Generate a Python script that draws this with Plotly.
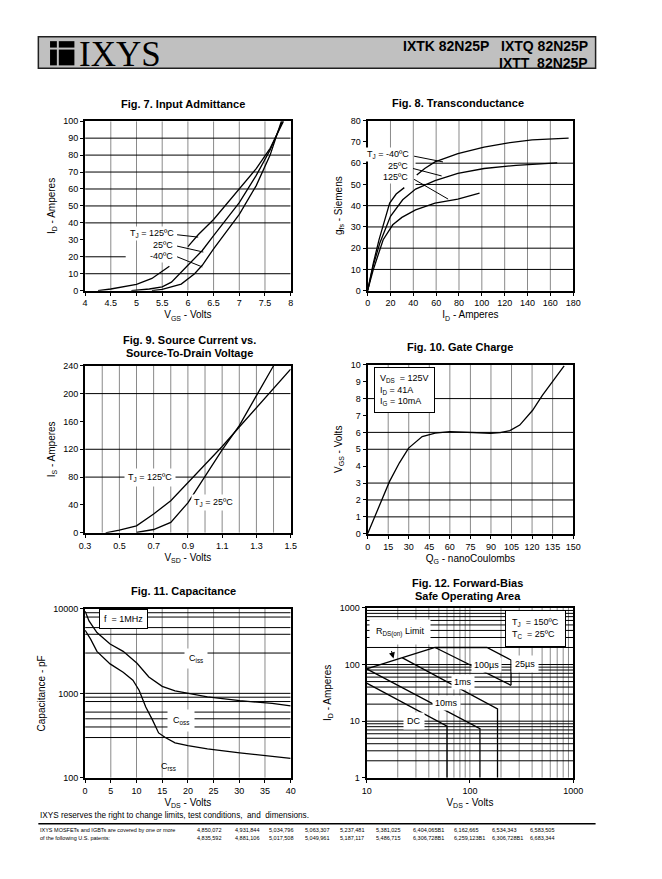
import plotly.graph_objects as go
import math

PAGE_W, PAGE_H = 662, 879
OFF = 8  # browser body margin
W = 620
H = 845
FONT = "Liberation Sans, Arial, sans-serif"
GRAY = "#8a8a8a"

# ---------------- DATA ----------------
# Fig 7 Input admittance (VGS in V, ID in A)
f7_vgs_125 = [4.25, 4.5, 5.0, 5.3, 5.64, None, 6.0, 6.2, 6.5, 7.0, 7.33, 7.6, 7.86]
f7_id_125 = [0, 1, 3.7, 7.2, 14.4, None, 26, 33, 42, 60, 72, 84, 100]
f7_vgs_25 = [4.9, 5.0, 5.25, 5.5, 5.68, 6.0, 6.28, 6.5, 7.0, 7.33, 7.6, 7.84]
f7_id_25 = [0, 0.3, 1, 2.3, 5, 15, 23.7, 32.5, 52, 68, 83, 100]
f7_vgs_m40 = [5.3, 5.5, 5.87, 6.13, 6.28, 6.5, 7.0, 7.33, 7.6, 7.82]
f7_id_m40 = [0, 0.8, 3.9, 10, 15, 24.7, 45, 62, 80, 100]
f7_xticks = [4, 4.5, 5, 5.5, 6, 6.5, 7, 7.5, 8]
f7_yticks = [0, 10, 20, 30, 40, 50, 60, 70, 80, 90, 100]
f7_hgrid = [10, 40, 50, 60, 70, 80, 90]

# Fig 8 Transconductance (ID in A, gfs in S)
f8_id_m40 = [0, 5, 10, 13.6, 19.3, 25, 32.1, None, 43, 50, 59, 79, 102, 122, 144, 176]
f8_gfs_m40 = [0, 13, 24, 30.4, 41.2, 45.5, 48.5, None, 54.4, 57.5, 60.6, 64.5, 67.6, 69.5, 71, 71.8]
f8_id_25 = [0, 5, 10.8, 20, 30.7, 42, 59, 79, 102, 130, 166]
f8_gfs_25 = [0, 12, 22.6, 35, 42.8, 47.8, 51.8, 55.2, 57.5, 59, 60.2]
f8_id_125 = [0, 5, 13.6, 22, 30, 42, 59, 79, 98]
f8_gfs_125 = [0, 10, 24, 31, 34.5, 38, 41.2, 43.1, 45.9]
f8_xticks = [0, 20, 40, 60, 80, 100, 120, 140, 160, 180]
f8_yticks = [0, 10, 20, 30, 40, 50, 60, 70, 80]

# Fig 9 Source current vs source-drain voltage
f9_vsd_125 = [0.42, 0.5, 0.6, 0.7, 0.8, 0.9, 1.0, 1.1, 1.2, 1.3, 1.4, 1.5]
f9_is_125 = [0, 3.8, 10, 27, 46, 72, 97, 124, 152, 180, 208, 235]
f9_vsd_25 = [0.6, 0.7, 0.8, 0.9, 1.0, 1.1, 1.2, 1.3, 1.4]
f9_is_25 = [0.5, 4.7, 15, 43, 81, 119, 154, 197, 240]
f9_xticks = [0.3, 0.5, 0.7, 0.9, 1.1, 1.3, 1.5]
f9_yticks = [0, 40, 80, 120, 160, 200, 240]

# Fig 10 Gate charge
f10_qg = [0, 10.2, 16, 23.2, 29.9, 39.8, 49.3, 60, 73, 89.6, 96.7, 103.8, 111, 120.4, 127.5, 134.6, 143.4]
f10_vgs = [0, 2, 3.1, 4.2, 5.07, 5.75, 5.95, 6.04, 6.0, 5.95, 5.98, 6.1, 6.43, 7.31, 8.19, 8.97, 9.94]
f10_xticks = [0, 15, 30, 45, 60, 75, 90, 105, 120, 135, 150]
f10_yticks = [0, 1, 2, 3, 4, 5, 6, 7, 8, 9, 10]
f10_hgrid = [1, 2, 3, 5, 6, 8]

# Fig 11 Capacitance
f11_vds_iss = [0, 0.76, 2.3, 4.86, 7.4, 10.1, 12.4, 15, 17.5, 20, 23.8, 30.1, 36.4, 40]
f11_c_iss = [9400, 7200, 5240, 3830, 3140, 2270, 1560, 1210, 1070, 1000, 910, 820, 760, 710]
f11_vds_low = [0, 1.07, 2.3, 4.86, 7.4, 9.3, 10.5, 11.8, 13.1, 14.3, 15.6, 17.5, 20, 23.8, 30.1, 36.4, 40]
f11_c_low = [5580, 4380, 3140, 2230, 1780, 1430, 1090, 690, 485, 340, 300, 260, 240, 220, 198, 180, 170]
f11_xticks = [0, 5, 10, 15, 20, 25, 30, 35, 40]
f11_yticks = [100, 1000, 10000]
f11_hgrid = [300, 400, 500, 600, 800, 900, 1000, 3000, 5000, 6000, 8000, 9000]

# Fig 12 Forward-bias SOA
f12_v_rds = [10, 46]
f12_i_rds = [84, 200]
f12_v_25us = [46, 146, 250, 250]
f12_i_25us = [200, 200, 120, 43]
f12_v_100us = [46, 250]
f12_i_100us = [200, 43]
f12_v_1ms = [22, 185, 185]
f12_i_1ms = [132, 16.5, 1]
f12_v_10ms = [10, 125, 125]
f12_i_10ms = [84, 7.4, 1]
f12_v_dc = [10, 60, 60]
f12_i_dc = [47, 8.2, 1]
f12_xticks = [10, 100, 1000]
f12_yticks = [1, 10, 100, 1000]
f12_minor = [2, 3, 4, 5, 6, 7, 8, 9]

patents_row1 = ["4,850,072", "4,931,844", "5,034,796", "5,063,307", "5,237,481",
                "5,381,025", "6,404,065B1", "6,162,665", "6,534,343", "6,583,505"]
patents_row2 = ["4,835,592", "4,881,106", "5,017,508", "5,049,961", "5,187,117",
                "5,486,715", "6,306,728B1", "6,259,123B1", "6,306,728B1", "6,683,344"]

# ---------------- LAYOUT HELPERS (page pixel coords) ----------------
panels = {
    1: dict(x=(81, 292), y=(117.5, 289)),
    2: dict(x=(371, 582), y=(117, 289)),
    3: dict(x=(81, 292), y=(365, 534)),
    4: dict(x=(371, 582), y=(364, 535)),
    5: dict(x=(81, 292), y=(611, 782)),
    6: dict(x=(370, 582), y=(610, 782)),
}


def PX(p):
    return (p - OFF) / W


def PY(p):
    return 1 - (p - OFF) / H


fig = go.Figure()


def ax_names(n):
    s = "" if n == 1 else str(n)
    return "x" + s, "y" + s


def lines(n, xs, ys, color="black", width=1.3):
    xa, ya = ax_names(n)
    fig.add_trace(go.Scatter(x=xs, y=ys, mode="lines", line=dict(color=color, width=width),
                             xaxis=xa, yaxis=ya, hoverinfo="skip", showlegend=False,
                             connectgaps=False))


def hgrid(n, vals, x0, x1, color="black"):
    xs, ys = [], []
    for v in vals:
        xs += [x0, x1, None]
        ys += [v, v, None]
    lines(n, xs, ys, color=color, width=1)


def vgrid(n, vals, y0, y1, color=GRAY):
    xs, ys = [], []
    for v in vals:
        xs += [v, v, None]
        ys += [y0, y1, None]
    lines(n, xs, ys, color=color, width=1)


def axis(n, which, rng, tickvals, ticktext=None, title=None, log=False, standoff=4):
    p = panels[n]
    if which == "x":
        dom = [PX(p["x"][0]), PX(p["x"][1])]
    else:
        dom = [PY(p["y"][1]), PY(p["y"][0])]
    a = dict(domain=dom, range=rng, showline=True, linecolor="black", linewidth=2,
             mirror=True, showgrid=False, zeroline=False, ticks="outside", ticklen=3,
             tickcolor="black", tickvals=tickvals,
             ticktext=ticktext if ticktext else [str(t) for t in tickvals],
             tickfont=dict(size=9, family=FONT, color="black"), fixedrange=True)
    if log:
        a["type"] = "log"
    if title:
        a["title"] = dict(text=title, font=dict(size=10, family=FONT, color="black"),
                          standoff=standoff)
    xa, ya = ax_names(n)
    if which == "x":
        a["anchor"] = ya
        fig.layout["xaxis" + xa[1:]] = a
    else:
        a["anchor"] = xa
        fig.layout["yaxis" + ya[1:]] = a


annotations = []
shapes = []


def note(n, x, y, text, size=9, bg=None, xanchor="center", border=False, pad=1, align="center"):
    xa, ya = ax_names(n)
    d = dict(x=x, y=y, xref=xa, yref=ya, text=text, showarrow=False, xanchor=xanchor,
             yanchor="middle", align=align,
             font=dict(size=size, family=FONT, color="black"), borderpad=pad)
    if bg:
        d["bgcolor"] = bg
    if border:
        d["bordercolor"] = "black"
        d["borderwidth"] = 1
    annotations.append(d)


def leader(n, x0, y0, x1, y1):
    xa, ya = ax_names(n)
    shapes.append(dict(type="line", xref=xa, yref=ya, x0=x0, y0=y0, x1=x1, y1=y1,
                       line=dict(color="black", width=1), layer="above"))


def arrow(n, x0, y0, x1, y1):
    xa, ya = ax_names(n)
    annotations.append(dict(x=x1, y=y1, ax=x0, ay=y0, xref=xa, yref=ya, axref=xa, ayref=ya,
                            text=" ", showarrow=True, arrowhead=2, arrowwidth=1,
                            arrowsize=1.2, arrowcolor="black", standoff=0, startstandoff=0))


def paper_text(px, py, text, size=10, bold=False, xanchor="center", family=FONT):
    annotations.append(dict(x=PX(px), y=PY(py), xref="paper", yref="paper",
                            text=("<b>%s</b>" % text) if bold else text, showarrow=False,
                            xanchor=xanchor, yanchor="middle",
                            font=dict(size=size, family=family, color="black")))


def paper_rect(x0, y0, x1, y1, fill="black", line=None, lw=0, layer="above"):
    shapes.append(dict(type="rect", xref="paper", yref="paper", x0=PX(x0), x1=PX(x1),
                       y0=PY(y1), y1=PY(y0), fillcolor=fill,
                       line=dict(color=line or fill, width=lw), layer=layer))


# ---------------- FIG 7 ----------------
vgrid(1, f7_xticks[1:-1], 0, 100)
hgrid(1, f7_hgrid, 4, 8)
hgrid(1, [20], 4, 4.79)
lines(1, f7_vgs_125, f7_id_125)
lines(1, f7_vgs_25, f7_id_25)
lines(1, f7_vgs_m40, f7_id_m40)
axis(1, "x", [4, 8], f7_xticks, title="V<sub>GS</sub> - Volts", standoff=4)
axis(1, "y", [0, 100], f7_yticks, title="I<sub>D</sub> - Amperes", standoff=6)
note(1, 5.77, 33.5, "T<sub>J</sub> = 125ºC", xanchor="right", bg="white")
note(1, 5.75, 27, "25ºC", xanchor="right", bg="white")
note(1, 5.75, 20.5, "-40ºC", xanchor="right", bg="white")
leader(1, 5.79, 33, 6.2, 31.6)
leader(1, 5.79, 26.3, 6.3, 22.8)
leader(1, 5.79, 20, 6.28, 14)

# ---------------- FIG 8 ----------------
vgrid(2, f8_xticks[1:-1], 0, 80)
hgrid(2, [10, 20, 30, 40], 0, 180)
hgrid(2, [50, 60], 42, 180)
lines(2, f8_id_m40, f8_gfs_m40)
lines(2, f8_id_25, f8_gfs_25)
lines(2, f8_id_125, f8_gfs_125)
axis(2, "x", [0, 180], f8_xticks, title="I<sub>D</sub> - Amperes", standoff=4)
axis(2, "y", [0, 80], f8_yticks, title="g<sub>fs</sub> - Siemens", standoff=6)
note(2, 38, 64, "T<sub>J</sub> = -40ºC", xanchor="right", bg="white")
note(2, 37, 58.6, "25ºC", xanchor="right", bg="white")
note(2, 37, 53.4, "125ºC", xanchor="right", bg="white")
leader(2, 40.7, 63.3, 66, 60.6)
leader(2, 39.8, 57.5, 64.8, 54)
leader(2, 40.7, 52.4, 70.5, 43.1)

# ---------------- FIG 9 ----------------
vgrid(3, [round(0.4 + 0.1 * k, 1) for k in range(11)], 0, 240)
hgrid(3, [80, 120, 200], 0.3, 1.5)
lines(3, f9_vsd_125, f9_is_125)
lines(3, f9_vsd_25, f9_is_25)
axis(3, "x", [0.3, 1.5], f9_xticks, title="V<sub>SD</sub> - Volts", standoff=4)
axis(3, "y", [0, 240], f9_yticks, title="I<sub>S</sub> - Amperes", standoff=6)
note(3, 0.68, 80, "T<sub>J</sub> = 125ºC", bg="white", pad=3)
note(3, 1.05, 43, "T<sub>J</sub> = 25ºC", bg="white", pad=2)

# ---------------- FIG 10 ----------------
vgrid(4, f10_xticks[1:-1], 0, 10)
hgrid(4, f10_hgrid, 0, 150)
lines(4, f10_qg, f10_vgs)
axis(4, "x", [0, 150], f10_xticks, title="Q<sub>G</sub> - nanoCoulombs", standoff=4)
axis(4, "y", [0, 10], f10_yticks, title="V<sub>GS</sub> - Volts", standoff=6)
note(4, 4.5, 8.5, "V<sub>DS</sub>  = 125V<br>I<sub>D</sub> = 41A<br>I<sub>G</sub> = 10mA",
     bg="white", border=True, pad=5, xanchor="left", align="left")

# ---------------- FIG 11 ----------------
vgrid(5, f11_xticks[1:-1], 100, 10000)
hgrid(5, f11_hgrid, 0, 40)
lines(5, f11_vds_iss, f11_c_iss)
lines(5, f11_vds_low, f11_c_low)
axis(5, "x", [0, 40], f11_xticks, title="V<sub>DS</sub> - Volts", standoff=4)
axis(5, "y", [2, 4], f11_yticks, title="Capacitance - pF", log=True, standoff=6)
note(5, 7.5, math.log10(7500), "f  = 1MHz", bg="white", border=True, pad=4)
note(5, 21.6, math.log10(2600), "C<sub>iss</sub>", bg="white", pad=4)
note(5, 18.6, math.log10(480), "C<sub>oss</sub>", bg="white", pad=5)
note(5, 16.2, math.log10(138), "C<sub>rss</sub>")

# ---------------- FIG 12 ----------------
vminor = [m * d for d in (10, 100) for m in f12_minor] + [100]
vgrid(6, vminor, 1, 1000)
hminor = [m * d for d in (1, 10, 100) for m in f12_minor] + [10, 100]
hgrid(6, hminor, 10, 1000)
lines(6, f12_v_rds, f12_i_rds)
lines(6, f12_v_25us, f12_i_25us)
lines(6, f12_v_100us, f12_i_100us)
lines(6, f12_v_1ms, f12_i_1ms)
lines(6, f12_v_10ms, f12_i_10ms)
lines(6, f12_v_dc, f12_i_dc)
axis(6, "x", [1, 3], f12_xticks, title="V<sub>DS</sub> - Volts", log=True, standoff=4)
axis(6, "y", [0, 3], f12_yticks, title="I<sub>D</sub> - Amperes", log=True, standoff=6)
L = math.log10
note(6, L(21), L(370), "R<sub>DS(on)</sub> Limit", bg="white", pad=6)
arrow(6, L(16.5), L(245), L(18.2), L(128))
note(6, L(146), L(100), "100µs", bg="white", pad=2)
note(6, L(345), L(102), "25µs", bg="white", pad=3)
note(6, L(85), L(50), "1ms", bg="white", pad=2)
note(6, L(59), L(21), "10ms", bg="white", pad=2)
note(6, L(28.6), L(10), "DC", bg="white", pad=3)
note(6, L(430), L(440), "T<sub>J</sub>  = 150ºC<br>T<sub>C</sub>  = 25ºC",
     bg="white", border=True, pad=6, align="left")

# ---------------- TITLES ----------------
paper_text(181, 100, "Fig. 7. Input Admittance", size=11, bold=True)
paper_text(464, 99.5, "Fig. 8. Transconductance", size=11, bold=True)
paper_text(188, 339, "Fig. 9. Source Current vs.", size=11, bold=True)
paper_text(188, 352, "Source-To-Drain Voltage", size=11, bold=True)
paper_text(466, 345.5, "Fig. 10. Gate Charge", size=11, bold=True)
paper_text(182, 592.5, "Fig. 11. Capacitance", size=11, bold=True)
paper_text(474, 584.5, "Fig. 12. Forward-Bias", size=11, bold=True)
paper_text(474, 597.5, "Safe Operating Area", size=11, bold=True)

# ---------------- HEADER ----------------
paper_rect(33, 32, 605, 64, fill="#c0c0c0", line="#202020", lw=1.5, layer="below")
paper_rect(45, 36.5, 52, 43)
paper_rect(54, 36.5, 70, 43)
paper_rect(45, 45, 52, 61)
paper_rect(54, 45, 70, 61)
paper_text(73, 49.5, "IXYS", size=35, xanchor="left", family="Liberation Serif, Times New Roman, serif")
NARROW = "Liberation Sans Narrow, Arial Narrow, Liberation Sans, sans-serif"
paper_text(599, 41.5, "IXTK 82N25P\u00a0\u00a0 IXTQ 82N25P", size=14, bold=True, xanchor="right",
           family=NARROW)
paper_text(599, 58.5, "IXTT\u00a0 82N25P", size=14, bold=True, xanchor="right", family=NARROW)

# ---------------- FOOTER ----------------
paper_text(33, 820, "IXYS reserves the right to change limits, test conditions,\u00a0 and\u00a0 dimensions.",
           size=8.2, xanchor="left")
shapes.append(dict(type="line", xref="paper", yref="paper", x0=PX(33), x1=PX(605),
                   y0=PY(828.5), y1=PY(828.5), line=dict(color="black", width=1.5)))
paper_text(33, 835, "IXYS MOSFETs and IGBTs are covered by one or more", size=5.5, xanchor="left")
paper_text(33, 843, "of the following U.S. patents:", size=5.5, xanchor="left")
pat_x = [194, 233, 268, 305, 341, 378, 416, 458, 497, 536]
for px_, a, b in zip(pat_x, patents_row1, patents_row2):
    paper_text(px_, 835, a, size=5.5, xanchor="left")
    paper_text(px_, 843, b, size=5.5, xanchor="left")

fig.update_layout(width=W, height=H, margin=dict(l=0, r=0, t=0, b=0),
                  paper_bgcolor="white", plot_bgcolor="white", showlegend=False,
                  annotations=annotations, shapes=shapes,
                  font=dict(family=FONT, color="black"))
fig.write_html("out.html")
